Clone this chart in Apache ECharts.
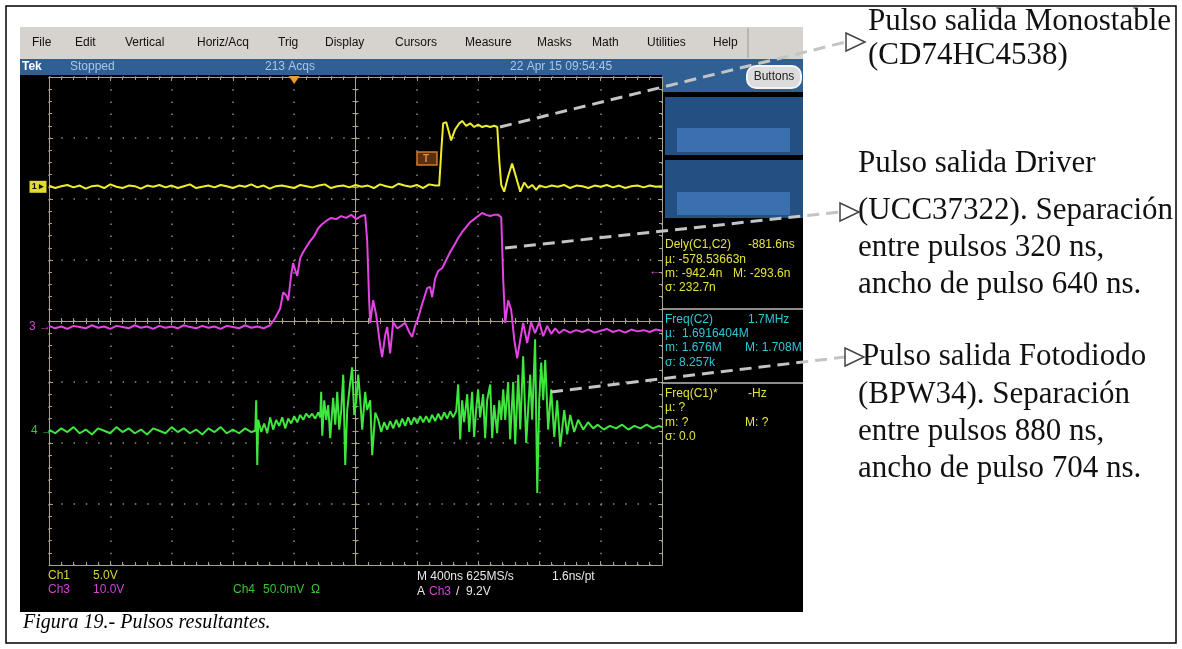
<!DOCTYPE html>
<html>
<head>
<meta charset="utf-8">
<title>Pulsos resultantes</title>
<script src="https://cdn.jsdelivr.net/npm/echarts@6.0.0/dist/echarts.min.js"></script>
<style>
  html, body { margin: 0; padding: 0; background: #fff; }
  #scope { width: 1182px; height: 649px; }
</style>
</head>
<body>
<div id="scope"></div>
<script>
// horizontal: 400 ns/div, trigger at t = 0 (4 div from the left)
const timeMin = -1600;
const timeMax = 2400;
const timePerDiv = 400;

// channel settings (volts per div, ground position in div)
const ch1Scale = 5;     // V/div
const ch3Scale = 10;    // V/div
const ch4Scale = 50;    // mV/div
const ch1Pos = 2.2;
const ch3Pos = -0.1;
const ch4Pos = -1.8;
const ch3TrigLevel = 9.2; // V

// Ch1 - salida monoestable [ns, V]
const ch1Samples = [
  [-1600,0.1],[-1560,-0.1],[-1520,0.05],[-1480,0.15],[-1440,-0.05],[-1400,0.1],[-1360,-0.15],[-1320,0.05],
  [-1280,0.1],[-1240,-0.1],[-1200,0.2],[-1160,0],[-1120,-0.1],[-1080,0.1],[-1040,0.05],[-1000,-0.15],
  [-960,0.1],[-920,0],[-880,0.15],[-840,-0.05],[-800,0.1],[-760,-0.1],[-720,0.05],[-680,0.2],
  [-640,-0.1],[-600,0],[-560,0.1],[-520,-0.05],[-480,0.15],[-440,0.05],[-400,-0.1],[-360,0.1],
  [-320,0],[-280,0.2],[-240,-0.05],[-200,0.1],[-160,-0.15],[-120,0.05],[-80,0.1],[-40,0],
  [0,-0.1],[40,0.15],[80,0.05],[120,-0.05],[160,0.1],[200,0.2],[240,-0.1],[280,0.05],
  [320,0.1],[360,-0.05],[400,0.15],[440,0],[480,0.1],[520,-0.1],[560,0.2],[600,0.05],
  [640,-0.05],[680,0.25],[720,0.1],[760,0],[800,0.15],[840,-0.1],[880,0.2],[920,0.1],
  [946,0.1],[960,3.0],[972,5.2],[992,5.3],[1005,4.7],[1024,3.8],[1050,4.7],[1077,5.2],
  [1096,5.4],[1122,5.0],[1148,5.2],[1174,4.9],[1200,5.1],[1227,4.9],[1253,5.0],[1279,4.9],
  [1305,5.0],[1325,4.9],[1338,2.2],[1351,0.15],[1370,-0.4],[1397,0.9],[1422,1.9],[1449,0.75],
  [1475,-0.4],[1501,0.35],[1527,-0.1],[1553,0.15],[1579,-0.25],
  [1600,0.1],[1640,-0.05],[1680,0.1],[1720,0],[1760,0.15],[1800,-0.1],[1840,0.1],[1880,0.05],
  [1920,-0.1],[1960,0.1],[2000,0],[2040,0.15],[2080,-0.05],[2120,0.1],[2160,-0.1],[2200,0.05],
  [2240,0.1],[2280,-0.05],[2320,0.1],[2360,0],[2400,0.05]
];

// Ch3 - salida driver [ns, V]
const ch3Samples = [
  [-1600,0.2],[-1560,-0.2],[-1520,0.1],[-1480,-0.3],[-1440,0.2],[-1400,0],[-1360,-0.2],[-1320,0.3],
  [-1280,-0.1],[-1240,0.1],[-1200,-0.3],[-1160,0.2],[-1120,0],[-1080,-0.2],[-1040,0.3],[-1000,-0.1],
  [-960,0.1],[-920,-0.3],[-880,0.2],[-840,-0.1],[-800,0.1],[-760,-0.2],[-720,0.3],[-680,0],
  [-640,-0.2],[-600,0.2],[-560,-0.1],[-520,0.1],[-480,-0.3],[-440,0.2],[-400,0],[-360,-0.2],
  [-320,0.3],[-280,-0.1],[-240,0.1],[-200,-0.2],
  [-157,0.3],[-124,1.5],[-91,3.1],[-72,5.7],[-52,5.2],[-39,4.4],[-20,8.5],[-7,10.5],
  [7,9.3],[20,8.4],[39,11.3],[59,12.3],[78,13.1],[104,14.1],[130,14.9],[157,16.2],
  [183,16.9],[209,17.4],[241,17.9],[274,17.7],[307,18.2],[339,17.9],[372,18.4],[405,17.7],
  [437,18.2],[463,18.4],[476,14.3],[489,4.4],[496,0.7],[515,4.4],[535,2.0],[561,-3.0],
  [574,-4.9],[594,-1.3],[607,0],[626,-4.3],[646,0.8],[672,-0.2],[698,0.2],[724,0.7],
  [750,-0.8],[770,-1.6],[790,0.3],[809,1.5],[829,3.3],[848,4.8],[868,6.4],[887,6.6],
  [900,4.9],[920,8.0],[940,9.2],[966,9.7],[992,11.0],[1018,12.3],[1044,13.4],[1070,14.6],
  [1096,15.6],[1122,16.4],[1148,17.2],[1174,17.7],[1200,18.2],[1227,18.7],[1253,18.4],[1279,18.2],
  [1305,18.4],[1331,18.4],[1351,18.0],[1364,7.7],[1377,0.7],[1396,4.4],[1416,2.8],[1436,-2.1],
  [1455,-5.1],[1475,-2.1],[1494,0.7],[1520,-2.6],[1546,0.8],[1572,-1.0],[1599,0.8],[1625,-1.5],
  [1651,0.2],[1677,-1.1],[1703,-0.2],[1729,-1.0],
  [1760,-0.4],[1800,-0.9],[1840,-0.5],[1880,-0.8],[1920,-0.4],[1960,-0.9],[2000,-0.6],[2040,-0.3],
  [2080,-0.8],[2120,-0.5],[2160,-0.9],[2200,-0.4],[2240,-0.7],[2280,-0.5],[2320,-0.8],[2360,-0.4],
  [2400,-0.6]
];

// Ch4 - salida fotodiodo [ns, mV]
const ch4Samples = [
  [-1600,1],[-1560,-2],[-1520,2],[-1480,-1],[-1440,3],[-1400,-2],[-1360,1],[-1320,-3],
  [-1280,2],[-1240,0],[-1200,-2],[-1160,3],[-1120,-1],[-1080,2],[-1040,-2],[-1000,1],
  [-960,-3],[-920,2],[-880,0],[-840,-2],[-800,3],[-760,-1],[-720,2],[-680,-2],
  [-640,1],[-600,-3],[-560,2],[-520,-1],[-480,3],[-440,-2],[-400,1],[-360,-2],
  [-320,2],[-280,-1],
  [-254,0],[-248,25],[-241,-28],[-235,9],[-215,-1],[-196,6],[-176,-2],[-157,11],
  [-137,1],[-117,9],[-98,4],[-78,11],[-59,2],[-39,10],[-20,6],[0,12],
  [20,7],[39,13],[59,9],[78,14],[98,11],[117,14],[137,10],[157,15],
  [170,11],[176,32],[183,-4],[196,25],[209,9],[222,21],[235,-6],[254,27],
  [268,5],[281,32],[294,1],[307,17],[320,46],[333,-28],[346,17],[365,39],
  [378,52],[392,13],[405,25],[418,46],[431,25],[444,1],[463,32],[476,17],
  [496,25],[509,-20],[529,15],[548,9],[568,-1],[587,7],[607,1],[626,8],
  [646,2],[666,9],[685,3],[705,10],[724,4],[744,11],[763,5],[783,11],
  [803,6],[822,12],[842,7],[861,12],[881,7],[900,13],[920,8],[940,14],
  [959,9],[979,15],[998,10],[1018,16],[1037,11],[1057,16],[1070,38],[1083,-7],
  [1096,25],[1109,7],[1129,30],[1142,-1],[1161,32],[1174,-5],[1187,17],[1200,34],
  [1213,11],[1233,30],[1246,-6],[1259,25],[1279,38],[1292,-6],[1305,21],[1324,-2],
  [1338,25],[1351,9],[1364,34],[1377,9],[1396,40],[1409,-7],[1429,40],[1442,-11],
  [1462,46],[1475,1],[1494,61],[1514,-10],[1540,46],[1553,9],[1572,75],[1586,-51],
  [1599,25],[1612,56],[1625,25],[1638,58],[1657,1],[1677,34],[1697,-5],[1716,25],
  [1736,-13],[1762,17],[1781,-3],[1801,13],[1827,-1],[1853,9],[1886,1],[1918,7],
  [1951,2],
  [1980,5],[2020,1],[2060,4],[2100,2],[2140,5],[2180,1],[2220,4],[2260,2],
  [2300,5],[2340,2],[2380,4],[2400,3]
];

// menu + status texts
const menuItems = ['File','Edit','Vertical','Horiz/Acq','Trig','Display','Cursors','Measure','Masks','Math','Utilities','Help'];
const menuX = [32, 75, 125, 197, 278, 325, 395, 465, 537, 592, 647, 713];

const GRID = { left: 49, top: 77, width: 613, height: 488 };
const gratColor = '#aaa486';
const dotColor = '#8a8a8a';
const YELLOW = '#eeee2a', MAGENTA = '#e444e4', GREEN = '#3ee63e';

function toDiv(samples, scale, pos) {
  return samples.map(p => [p[0], p[1] / scale + pos]);
}

// one x axis of the graticule (border or centre line)
function xAx(position, offset, inside, withSplit) {
  return {
    type: 'value', min: timeMin, max: timeMax, interval: timePerDiv,
    position: position, offset: offset,
    axisLabel: { show: false },
    axisLine: { show: true, onZero: false, lineStyle: { color: gratColor, width: 1 } },
    axisTick: { show: true, inside: inside, length: 4, lineStyle: { color: gratColor } },
    minorTick: { show: true, splitNumber: 5, length: 3, lineStyle: { color: gratColor } },
    splitLine: { show: withSplit, lineStyle: { color: dotColor, width: 1.5, type: [1.5, 10.7] } }
  };
}
function yAx(position, offset, inside, withSplit) {
  return {
    type: 'value', min: -4, max: 4, interval: 1,
    position: position, offset: offset,
    axisLabel: { show: false },
    axisLine: { show: true, onZero: false, lineStyle: { color: gratColor, width: 1 } },
    axisTick: { show: true, inside: inside, length: 4, lineStyle: { color: gratColor } },
    minorTick: { show: true, splitNumber: 5, length: 3, lineStyle: { color: gratColor } },
    splitLine: { show: withSplit, lineStyle: { color: dotColor, width: 1.5, type: [1.5, 10.76] } }
  };
}

function txt(text, x, y, fill, font, extra) {
  return Object.assign({
    type: 'text', z: 20,
    style: { text: text, x: x, y: y, fill: fill, font: font || '12px "Liberation Sans"', textVerticalAlign: 'middle' }
  }, extra || {});
}
function rect(x, y, w, h, fill, z, extra) {
  return Object.assign({ type: 'rect', z: z, shape: { x: x, y: y, width: w, height: h }, style: { fill: fill } }, extra || {});
}

const uiFont = '12px "Liberation Sans"';
const annFont = '31px "Liberation Serif"';

let graphics = [
  // page background
  rect(0, 0, 1182, 649, '#fff', -30),
  // scope screen
  rect(20, 27, 783, 585, '#000', -20),
  rect(20, 27, 783, 32, '#d6d3ce', -19),
  rect(20, 59, 783, 16, '#2f5f93', -19),
  rect(662, 75, 141, 17, '#2f5f93', -19),
  rect(665, 97, 138, 58, '#234f82', -19),
  rect(677, 128, 113, 24, '#3a70ae', -18),
  rect(665, 160, 138, 58, '#234f82', -19),
  rect(677, 192, 113, 23, '#3a70ae', -18),
  { type: 'line', z: -18, shape: { x1: 748, y1: 28, x2: 748, y2: 58 }, style: { stroke: '#9a978f', lineWidth: 1 } },
  { type: 'rect', z: 20, shape: { x: 747, y: 66, width: 54, height: 22, r: 9 }, style: { fill: '#dcdcdc', stroke: '#f4f4f4', lineWidth: 2 } },
  txt('Buttons', 774, 77, '#222', uiFont, { style: { text: 'Buttons', x: 774, y: 77, fill: '#222', font: uiFont, textAlign: 'center', textVerticalAlign: 'middle' } }),
  // title bar
  txt('Tek', 22, 67, '#ffffff', 'bold 12px "Liberation Sans"'),
  txt('Stopped', 70, 67, '#a9c6e8', uiFont),
  txt('213 Acqs', 265, 67, '#a9c6e8', uiFont),
  txt('22 Apr 15 09:54:45', 510, 67, '#a9c6e8', uiFont),
  // trigger level tag
  { type: 'rect', z: 20, shape: { x: 417, y: 152, width: 20, height: 13 }, style: { fill: '#5a2e0e', stroke: '#d27a2c', lineWidth: 1.5 } },
  txt('T', 423, 159, '#e08a3a', 'bold 10px "Liberation Sans"'),
  // measurement readouts
  txt('Dely(C1,C2)', 665, 245, '#e6e23c', uiFont),
  txt('-881.6ns', 748, 245, '#e6e23c', uiFont),
  txt('\u00b5: -578.53663n', 665, 260, '#e6e23c', uiFont),
  txt('m: -942.4n', 665, 274, '#e6e23c', uiFont),
  txt('M: -293.6n', 733, 274, '#e6e23c', uiFont),
  txt('\u03c3: 232.7n', 665, 288, '#e6e23c', uiFont),
  { type: 'line', z: 20, shape: { x1: 662, y1: 309, x2: 803, y2: 309 }, style: { stroke: '#bdbdbd', lineWidth: 1.5 } },
  txt('Freq(C2)', 665, 320, '#32c6d6', uiFont),
  txt('1.7MHz', 748, 320, '#32c6d6', uiFont),
  txt('\u00b5:  1.6916404M', 665, 334, '#32c6d6', uiFont),
  txt('m: 1.676M', 665, 348, '#32c6d6', uiFont),
  txt('M: 1.708M', 745, 348, '#32c6d6', uiFont),
  txt('\u03c3: 8.257k', 665, 363, '#32c6d6', uiFont),
  { type: 'line', z: 20, shape: { x1: 662, y1: 383, x2: 803, y2: 383 }, style: { stroke: '#bdbdbd', lineWidth: 1.5 } },
  txt('Freq(C1)*', 665, 394, '#e6e23c', uiFont),
  txt('-Hz', 748, 394, '#e6e23c', uiFont),
  txt('\u00b5: ?', 665, 408, '#e6e23c', uiFont),
  txt('m: ?', 665, 423, '#e6e23c', uiFont),
  txt('M: ?', 745, 423, '#e6e23c', uiFont),
  txt('\u03c3: 0.0', 665, 437, '#e6e23c', uiFont),
  // clip readouts at the screen edge
  rect(803, 225, 34, 230, '#fff', 40),
  // bottom status line
  txt('Ch1', 48, 576, '#d8d634', uiFont),
  txt('5.0V', 93, 576, '#d8d634', uiFont),
  txt('Ch3', 48, 590, '#d244d2', uiFont),
  txt('10.0V', 93, 590, '#d244d2', uiFont),
  txt('Ch4', 233, 590, '#36c436', uiFont),
  txt('50.0mV  \u03a9', 263, 590, '#36c436', uiFont),
  txt('M 400ns 625MS/s', 417, 577, '#e8e8e8', uiFont),
  txt('1.6ns/pt', 552, 577, '#e8e8e8', uiFont),
  txt('A', 417, 592, '#e8e8e8', uiFont),
  txt('Ch3', 429, 592, '#d244d2', uiFont),
  txt('/  9.2V', 456, 592, '#e8e8e8', uiFont),
  // caption
  txt('Figura 19.- Pulsos resultantes.', 23, 623, '#000', 'italic 20px "Liberation Serif"'),
  // annotations
  txt('Pulso salida Monostable', 868, 22, '#111', annFont),
  txt('(CD74HC4538)', 868, 56, '#111', annFont),
  txt('Pulso salida Driver', 858, 164, '#111', annFont),
  txt('(UCC37322). Separaci\u00f3n', 858, 211, '#111', annFont),
  txt('entre pulsos 320 ns,', 858, 248, '#111', annFont),
  txt('ancho de pulso 640 ns.', 858, 285, '#111', annFont),
  txt('Pulso salida Fotodiodo', 862, 357, '#111', annFont),
  txt('(BPW34). Separaci\u00f3n', 858, 395, '#111', annFont),
  txt('entre pulsos 880 ns,', 858, 432, '#111', annFont),
  txt('ancho de pulso 704 ns.', 858, 469, '#111', annFont),
  // page frame drawn over the text so long lines are cut at the border
  rect(1177, 0, 5, 649, '#fff', 69),
  rect(0, 643, 1182, 6, '#fff', 69),
  { type: 'rect', z: 70, shape: { x: 6, y: 6, width: 1170, height: 637 }, style: { fill: 'none', stroke: '#000', lineWidth: 1.5 } }
];

// dashed callout arrows
const callouts = [
  { from: [500, 127], to: [846, 42] },
  { from: [505, 248], to: [840, 212] },
  { from: [551, 392], to: [845, 357] }
];
callouts.forEach(c => {
  graphics.push({ type: 'line', z: 60, shape: { x1: c.from[0], y1: c.from[1], x2: c.to[0], y2: c.to[1] },
    style: { stroke: '#c4c4c4', lineWidth: 3, lineDash: [12, 7] } });
  graphics.push({ type: 'polygon', z: 61,
    shape: { points: [[c.to[0], c.to[1] - 9], [c.to[0], c.to[1] + 9], [c.to[0] + 19, c.to[1]]] },
    style: { fill: '#fff', stroke: '#444', lineWidth: 1.5 } });
});

menuItems.forEach((m, i) => graphics.push(txt(m, menuX[i], 43, '#111', uiFont)));

const chart = echarts.init(document.getElementById('scope'), null, { renderer: 'canvas' });

const option = {
  animation: false,
  grid: { left: GRID.left, top: GRID.top, width: GRID.width, height: GRID.height, show: false },
  xAxis: [
    xAx('bottom', 0, true, true),
    xAx('top', 0, true, false),
    xAx('bottom', -GRID.height / 2, true, false),
    Object.assign(xAx('bottom', -GRID.height / 2, false, false), { axisLine: { show: false, onZero: false } })
  ],
  yAxis: [
    yAx('left', 0, true, true),
    yAx('right', 0, true, false),
    yAx('left', -GRID.width / 2, true, false),
    Object.assign(yAx('left', -GRID.width / 2, false, false), { axisLine: { show: false, onZero: false } })
  ],
  series: [
    {
      name: 'Ch1', type: 'line', xAxisIndex: 0, yAxisIndex: 0, z: 5,
      data: toDiv(ch1Samples, ch1Scale, ch1Pos),
      showSymbol: false, symbol: 'none',
      lineStyle: { color: YELLOW, width: 2 }, itemStyle: { color: YELLOW },
      markPoint: {
        data: [
          // trigger position
          { coord: [0, 4], symbol: 'triangle', symbolRotate: 180, symbolSize: [11, 8], symbolOffset: [0, 3],
            itemStyle: { color: '#f39a24' }, label: { show: false } },
          // ch1 ground marker
          { coord: [timeMin, ch1Pos], symbol: 'rect', symbolSize: [17, 12], symbolOffset: [-11, 0],
            itemStyle: { color: '#e0dc2c' },
            label: { show: true, formatter: '1 \u25b8', color: '#111', fontSize: 9, fontWeight: 'bold' } }
        ]
      }
    },
    {
      name: 'Ch3', type: 'line', xAxisIndex: 0, yAxisIndex: 0, z: 4,
      data: toDiv(ch3Samples, ch3Scale, ch3Pos),
      showSymbol: false, symbol: 'none',
      lineStyle: { color: MAGENTA, width: 2 }, itemStyle: { color: MAGENTA },
      markPoint: {
        data: [
          { coord: [timeMin, ch3Pos], symbol: 'rect', symbolSize: [1, 1], symbolOffset: [-9, 0],
            itemStyle: { color: 'rgba(0,0,0,0)' },
            label: { show: true, formatter: '3 \u2192', color: '#d244d2', fontSize: 12 } },
          // ch3 trigger level arrow at right edge
          { coord: [timeMax, ch3TrigLevel / ch3Scale + ch3Pos], symbol: 'rect', symbolSize: [1, 1], symbolOffset: [-7, 0],
            itemStyle: { color: 'rgba(0,0,0,0)' },
            label: { show: true, formatter: '\u2190', color: '#d244d2', fontSize: 13 } }
        ]
      }
    },
    {
      name: 'Ch4', type: 'line', xAxisIndex: 0, yAxisIndex: 0, z: 3,
      data: toDiv(ch4Samples, ch4Scale, ch4Pos),
      showSymbol: false, symbol: 'none',
      lineStyle: { color: GREEN, width: 2 }, itemStyle: { color: GREEN },
      markPoint: {
        data: [
          { coord: [timeMin, ch4Pos], symbol: 'rect', symbolSize: [1, 1], symbolOffset: [-7, 0],
            itemStyle: { color: 'rgba(0,0,0,0)' },
            label: { show: true, formatter: '4 \u2192', color: '#36c436', fontSize: 12 } }
        ]
      }
    }
  ],
  graphic: graphics
};

chart.setOption(option);
</script>
</body>
</html>
